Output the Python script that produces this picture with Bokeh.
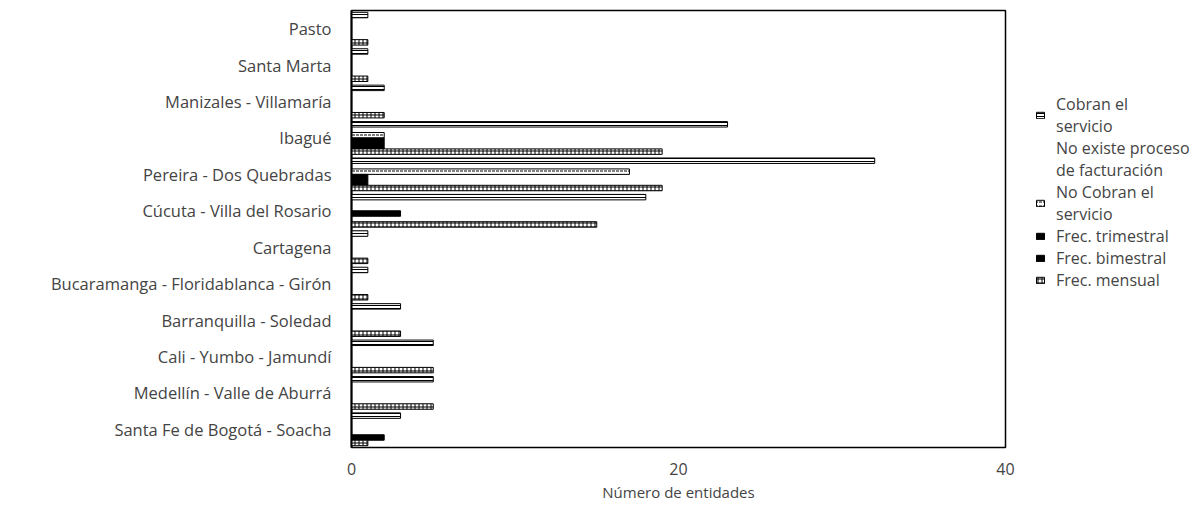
from bokeh.plotting import figure
from bokeh.models import ColumnDataSource, Legend, LegendItem, FactorRange, Range1d, FixedTicker
from bokeh.transform import dodge
from bokeh.embed import file_html
from bokeh.resources import INLINE

# top-to-bottom order as shown
cities = ["Pasto", "Santa Marta", "Manizales - Villamaría", "Ibagué",
          "Pereira - Dos Quebradas", "Cúcuta - Villa del Rosario", "Cartagena",
          "Bucaramanga - Floridablanca - Girón", "Barranquilla - Soledad",
          "Cali - Yumbo - Jamundí", "Medellín - Valle de Aburrá",
          "Santa Fe de Bogotá - Soacha"]
cobran = [1, 1, 2, 23, 32, 18, 1, 1, 3, 5, 5, 3]
no_existe = [0, 0, 0, 0, 0, 0, 0, 0, 0, 0, 0, 0]
no_cobran = [0, 0, 0, 2, 17, 0, 0, 0, 0, 0, 0, 0]
trimestral = [0, 0, 0, 2, 1, 3, 0, 0, 0, 0, 0, 0]
bimestral = [0, 0, 0, 2, 1, 0, 0, 0, 0, 0, 0, 2]
mensual = [1, 1, 2, 19, 19, 15, 1, 1, 3, 5, 5, 1]

series_names = ["Cobran el\nservicio", "No existe proceso\nde facturación", "No Cobran el\nservicio",
                "Frec. trimestral", "Frec. bimestral", "Frec. mensual"]
x_ticks = [0, 20, 40]

src = ColumnDataSource(dict(city=cities, cobran=cobran, no_existe=no_existe, no_cobran=no_cobran,
                            trimestral=trimestral, bimestral=bimestral, mensual=mensual))

p = figure(frame_width=654, frame_height=437, output_backend="svg", toolbar_location=None,
           y_range=FactorRange(*list(reversed(cities)), range_padding=0),
           x_range=Range1d(0, 40),
           min_border_left=351, min_border_right=190, min_border_top=10, min_border_bottom=54)

cols = ["cobran", "no_existe", "no_cobran", "trimestral", "bimestral", "mensual"]
offsets = [0.375, 0.225, 0.075, -0.075, -0.225, -0.375]
styles = [
    dict(fill_color="white", line_color="black", line_width=1, hatch_pattern="horizontal_line", hatch_color="black", hatch_scale=3, hatch_weight=1),
    dict(fill_color="white", line_color=None),
    dict(fill_color="white", line_color="black", line_width=1, hatch_pattern="horizontal_dash", hatch_color="black", hatch_scale=4, hatch_weight=1),
    dict(fill_color="black", line_color="black"),
    dict(fill_color="black", line_color="black"),
    dict(fill_color="white", line_color="black", line_width=1, hatch_pattern="cross", hatch_color="black", hatch_scale=4, hatch_weight=1),
]
items = []
for c, off, st, name in zip(cols, offsets, styles, series_names):
    r = p.hbar(y=dodge("city", off, range=p.y_range), right=c, left=0, height=0.15, source=src, **st)
    items.append(LegendItem(label=name, renderers=[r]))

legend = Legend(items=items, location=(30, 156), border_line_color=None,
                label_text_font="Open Sans", label_text_font_size="16px",
                glyph_width=10, glyph_height=8, spacing=0, padding=2, margin=0,
                label_standoff=11, background_fill_alpha=0)
p.add_layout(legend, "right")

p.xgrid.grid_line_color = None
p.ygrid.grid_line_color = None
p.outline_line_color = "black"
p.outline_line_width = 1.5

p.xaxis.ticker = FixedTicker(ticks=x_ticks)
p.xaxis.axis_label = "Número de entidades"
p.xaxis.axis_label_text_font = "Open Sans"
p.xaxis.axis_label_text_font_style = "normal"
p.xaxis.axis_label_text_font_size = "15px"
p.xaxis.major_label_text_font = "Open Sans"
p.xaxis.major_label_text_font_size = "16px"
p.xaxis.major_tick_line_color = None
p.xaxis.minor_tick_line_color = None
p.xaxis.axis_line_color = "black"
p.xaxis.major_label_standoff = 9
p.xaxis.axis_label_standoff = 4

p.yaxis.major_label_text_font = "Open Sans"
p.yaxis.major_label_text_font_size = "16.5px"
p.yaxis.major_tick_line_color = None
p.yaxis.minor_tick_line_color = None
p.yaxis.axis_line_color = "black"
p.yaxis.axis_line_width = 2
p.yaxis.major_label_standoff = 14

open("out.html", "w").write(file_html(p, INLINE))
